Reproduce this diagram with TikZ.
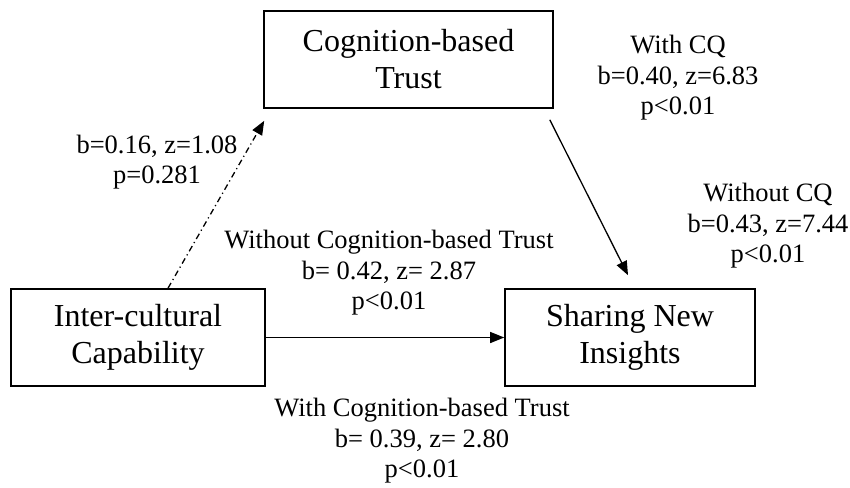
\documentclass[tikz,border=0pt]{standalone}
\usepackage{fontspec}
\setmainfont{Liberation Serif}
\usetikzlibrary{arrows.meta,calc}
\begin{document}
\begin{tikzpicture}[x=1pt,y=-1pt,
  box/.style={draw,line width=1.6pt,align=center,inner sep=0pt,
    font=\fontsize{32}{37}\selectfont},
  lbl/.style={align=center,inner sep=0pt,font=\fontsize{26.5}{30.5}\selectfont},
  arr/.style={line width=1.3pt,-{Triangle[length=14pt,width=11pt]}},
  dashdotline/.style={dash pattern=on 6pt off 3.5pt on 1.2pt off 3.5pt}]
\useasboundingbox (0,0) rectangle (850,487);
\node[box,minimum width=289pt,minimum height=97pt] (cb) at (408.5,59.5) {Cognition-based\\Trust};
\node[box,minimum width=254pt,minimum height=97pt] (ic) at (138,337.5) {Inter-cultural\\Capability};
\node[box,minimum width=250pt,minimum height=97pt] (sni) at (630,337.5) {Sharing New\\Insights};

\draw[arr,dashdotline] ([xshift=30pt]ic.north) -- ([xshift=1pt,yshift=-12pt]cb.south west);
\draw[arr] ([xshift=-4pt,yshift=-11pt]cb.south east) -- ([xshift=-2pt,yshift=13pt]sni.north);
\draw[arr] (ic.east) -- (sni.west);

\node[lbl] (l1) at (678,78) {With CQ\\b=0.40, z=6.83\\p<0.01};
\node[lbl] (l2) at (768,226) {Without CQ\\b=0.43, z=7.44\\p<0.01};
\node[lbl] (l3) at (157,162) {b=0.16, z=1.08\\p=0.281};
\node[lbl] (l4) at (389,273) {Without Cognition-based Trust\\b= 0.42, z= 2.87\\p<0.01};
\node[lbl] (l5) at (422,441) {With Cognition-based Trust\\b= 0.39, z= 2.80\\p<0.01};
\end{tikzpicture}
\end{document}
